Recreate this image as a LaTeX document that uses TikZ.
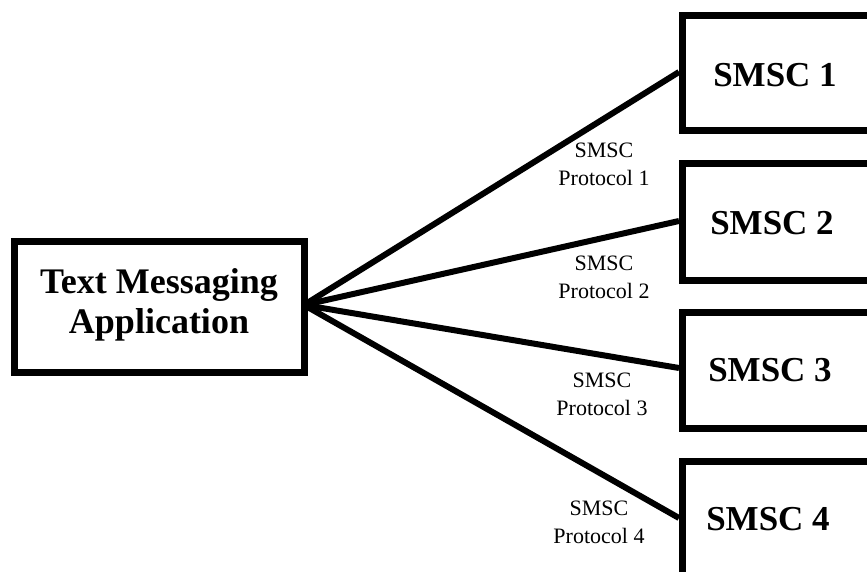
\documentclass[tikz,border=0pt]{standalone}
\usepackage{fontspec}
\setmainfont{Liberation Serif}
\begin{document}
\begin{tikzpicture}[x=1pt,y=-1pt,
  boxstyle/.style={draw=black, line width=7pt, fill=white, inner sep=0pt},
  link/.style={draw=black, line width=6pt},
  bigtext/.style={font=\fontsize{35}{38}\selectfont\bfseries, inner sep=0pt},
  protolabel/.style={font=\fontsize{22}{28}\selectfont, align=center, inner sep=0pt}]
\useasboundingbox (0,0) rectangle (867,572);
\clip (0,0) rectangle (867,572);
\fill[white] (0,0) rectangle (867,572);
% left box
\node[boxstyle, minimum width=290pt, minimum height=131pt] (app) at (159,306.5) {};
\node[bigtext, align=center, font=\fontsize{36}{40}\selectfont\bfseries] (apptext) at (159,305) {Text Messaging\\Application};
% SMSC boxes
\node[boxstyle, minimum width=240pt, minimum height=115pt, anchor=west] (s1) at (679,73.5) {};
\node[boxstyle, minimum width=240pt, minimum height=116pt, anchor=west] (s2) at (679,222) {};
\node[boxstyle, minimum width=240pt, minimum height=116pt, anchor=west] (s3) at (679,370) {};
\node[boxstyle, minimum width=240pt, minimum height=200pt, anchor=west] (s4) at (679,561) {};
\node[bigtext] (t1) at (775,75) {SMSC 1};
\node[bigtext] (t2) at (772,223) {SMSC 2};
\node[bigtext] (t3) at (770,370) {SMSC 3};
\node[bigtext] (t4) at (768,519) {SMSC 4};
% hub coordinate
\coordinate (hub) at (304,305);
\coordinate (e1) at (679,72);
\coordinate (e2) at (679,221);
\coordinate (e3) at (679,368);
\coordinate (e4) at (679,518);
\draw[link] (hub) -- (e1);
\draw[link] (hub) -- (e2);
\draw[link] (hub) -- (e3);
\draw[link] (hub) -- (e4);
% labels
\node[protolabel] (p1) at (604,164) {SMSC\\Protocol 1};
\node[protolabel] (p2) at (604,277) {SMSC\\Protocol 2};
\node[protolabel] (p3) at (602,394) {SMSC\\Protocol 3};
\node[protolabel] (p4) at (599,522) {SMSC\\Protocol 4};
\end{tikzpicture}
\end{document}
